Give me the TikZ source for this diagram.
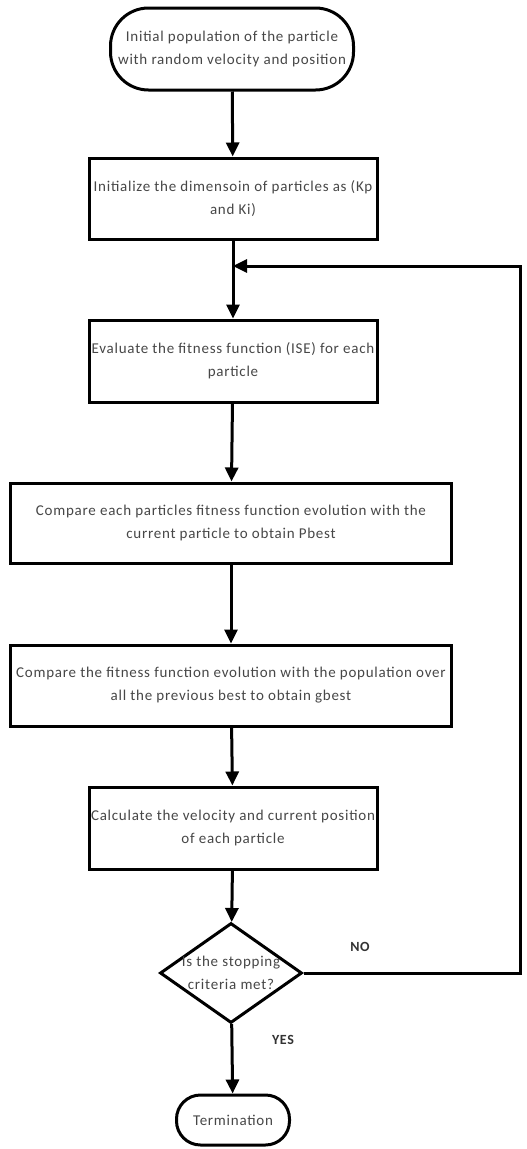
\documentclass[tikz,border=0pt]{standalone}
\usepackage{fontspec}
\setmainfont{Carlito}[LetterSpace=5]
\usetikzlibrary{arrows.meta,shapes.geometric}
\begin{document}
\begin{tikzpicture}[x=1pt,y=-1pt,
  txt/.style={font=\fontsize{15}{23}\selectfont, text=black!72, align=center},
  proc/.style={txt, draw=black, line width=3pt, rectangle, inner sep=1pt},
  term/.style={txt, draw=black, line width=3pt, rectangle, inner sep=1pt},
  dec/.style={draw=black, line width=3pt, diamond, inner sep=0pt, minimum width=142pt, minimum height=100pt},
  conn/.style={draw=black, line width=3pt, line join=miter, -{Triangle[length=14pt,width=13pt]}},
  lab/.style={font=\fontsize{14}{16}\selectfont\bfseries, text=black!80}
]
\fill[white] (0,0) rectangle (527,1149);
\useasboundingbox (0,0) rectangle (527,1149);

\node[term, rounded corners=38pt, minimum width=243pt, minimum height=82pt] (t1) at (232,49)
  {Initial population of the particle\\with random velocity and position};
\node[proc, minimum width=288pt, minimum height=81pt] (b2) at (233,198.5)
  {Initialize the dimensoin of particles as (Kp\\and Ki)};
\node[proc, minimum width=288pt, minimum height=82pt] (b3) at (233,361)
  {Evaluate the fitness function (ISE) for each\\particle};
\node[proc, minimum width=441pt, minimum height=80pt] (b4) at (231,523)
  {Compare each particles fitness function evolution with the\\current particle to obtain Pbest};
\node[proc, minimum width=441pt, minimum height=81pt] (b5) at (231,685.5)
  {Compare the fitness function evolution with the population over\\all the previous best to obtain gbest};
\node[proc, minimum width=288pt, minimum height=82pt] (b6) at (233,828)
  {Calculate the velocity and current position\\of each particle};
\node[dec] (d) at (231,973) {};
\node[txt] (dt) at (d) {Is the stopping\\criteria met?};
\node[term, rounded corners=24pt, minimum width=113pt, minimum height=50pt] (t2) at (233,1120)
  {Termination};

\node[lab] (no) at (360,947) {NO};
\node[lab] (yes) at (283,1040) {YES};

\coordinate (m) at (233,266);
\coordinate (c1) at (520,266);

\draw[conn] (t1) -- (b2);
\draw[conn] (b2) -- (b3);
\draw[conn] (b3) -- (b4);
\draw[conn] (b4) -- (b5);
\draw[conn] (b5) -- (b6);
\draw[conn] (b6) -- (d);
\draw[conn] (d) -- (t2);
\draw[conn] (d.east) -| (c1) -- (m);
\end{tikzpicture}
\end{document}
